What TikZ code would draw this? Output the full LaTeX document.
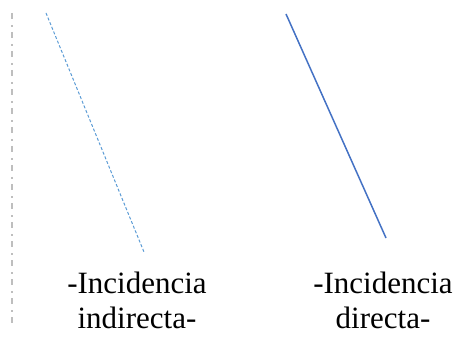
\documentclass[tikz,border=0pt]{standalone}
\usepackage{fontspec}
\setmainfont{Liberation Serif}
\definecolor{axisgray}{RGB}{190,190,190}
\definecolor{raylight}{RGB}{91,155,213}
\definecolor{raydark}{RGB}{68,114,196}
\tikzset{
  lbl/.style={align=center, font=\fontsize{31}{35}\selectfont, inner sep=0pt, anchor=base}
}
\begin{document}
\begin{tikzpicture}[x=1pt,y=-1pt]
\useasboundingbox (0,0) rectangle (476,339);
\coordinate (axt) at (12,13);
\coordinate (axb) at (12,327);
\coordinate (ind0) at (46,13);
\coordinate (ind1) at (144,252);
\coordinate (dir0) at (286,14);
\coordinate (dir1) at (386,238);
\draw[axisgray, line width=1.5pt, dash pattern=on 6pt off 6pt on 2pt off 5pt](axt) -- (axb);
\draw[raylight, line width=1pt, dash pattern=on 3pt off 2pt](ind0) -- (ind1);
\draw[raydark, line width=1.5pt](dir0) -- (dir1);
\node[lbl] (tind) at (137,328){-Incidencia\\indirecta-};
\node[lbl] (tdir) at (383,328){-Incidencia\\directa-};
\end{tikzpicture}
\end{document}
